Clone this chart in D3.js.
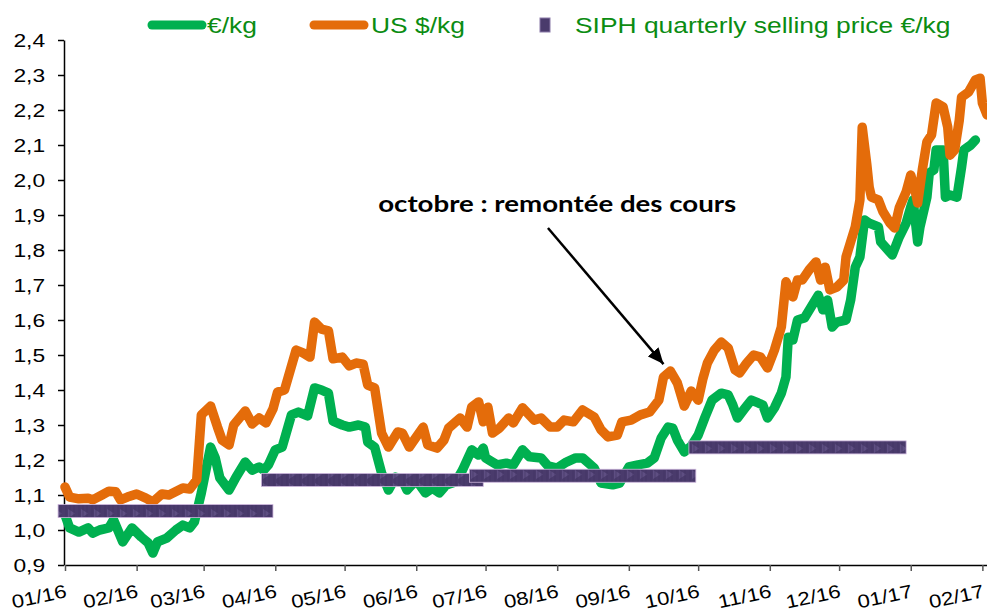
<!DOCTYPE html>
<html>
<head>
<meta charset="utf-8">
<script src="https://cdn.jsdelivr.net/npm/d3@7"></script>
<style>
body { margin: 0; background: #fff; }
svg { display: block; font-family: "Liberation Sans", Arial, sans-serif; }
</style>
</head>
<body>
<svg id="chart" width="987" height="614"></svg>
<script>
// €/kg series
const eurDates = ["2016-01-01","2016-01-03","2016-01-07","2016-01-11","2016-01-13","2016-01-16","2016-01-20","2016-01-22","2016-01-26","2016-01-30",
    "2016-02-03","2016-02-06","2016-02-08","2016-02-10","2016-02-14","2016-02-18","2016-02-21","2016-02-24","2016-02-26","2016-02-29",
    "2016-03-04","2016-03-06","2016-03-08","2016-03-12","2016-03-15","2016-03-19","2016-03-22","2016-03-25","2016-03-27","2016-03-29",
    "2016-04-01","2016-04-04","2016-04-08","2016-04-11","2016-04-15","2016-04-18","2016-04-21","2016-04-24","2016-04-26","2016-04-30",
    "2016-05-03","2016-05-07","2016-05-10","2016-05-11","2016-05-14","2016-05-17","2016-05-20","2016-05-23","2016-05-26","2016-05-28",
    "2016-06-01","2016-06-05","2016-06-08","2016-06-11","2016-06-14","2016-06-18","2016-06-21","2016-06-25","2016-06-28","2016-06-30",
    "2016-07-01","2016-07-04","2016-07-06","2016-07-10","2016-07-13","2016-07-17","2016-07-20","2016-07-25","2016-07-28",
    "2016-08-01","2016-08-05","2016-08-09","2016-08-12","2016-08-17","2016-08-20","2016-08-25","2016-08-28",
    "2016-09-01","2016-09-05","2016-09-09","2016-09-12","2016-09-15","2016-09-18","2016-09-20","2016-09-22","2016-09-25","2016-09-28",
    "2016-10-01","2016-10-04","2016-10-07","2016-10-11","2016-10-14","2016-10-16","2016-10-18","2016-10-21","2016-10-24","2016-10-27","2016-10-29","2016-10-31",
    "2016-11-03","2016-11-06","2016-11-08","2016-11-09","2016-11-11","2016-11-13","2016-11-16","2016-11-20","2016-11-22","2016-11-24","2016-11-26","2016-11-28","2016-11-30",
    "2016-12-04","2016-12-06","2016-12-08","2016-12-10","2016-12-12","2016-12-14","2016-12-18","2016-12-19","2016-12-24","2016-12-27","2016-12-30",
    "2017-01-01","2017-01-02","2017-01-04","2017-01-05","2017-01-08","2017-01-09","2017-01-11","2017-01-12","2017-01-15","2017-01-16","2017-01-18","2017-01-21","2017-01-23","2017-01-24","2017-01-27","2017-01-29"];
const eurValues = [1.043,1.006,0.994,1.006,0.991,1.000,1.006,1.029,0.966,1.006,
    0.980,0.963,0.934,0.966,0.977,1.000,1.014,1.006,1.023,1.106,
    1.237,1.206,1.149,1.114,1.151,1.194,1.171,1.180,1.171,1.186,
    1.229,1.237,1.329,1.337,1.326,1.406,1.400,1.391,1.311,1.300,
    1.294,1.300,1.294,1.251,1.237,1.163,1.114,1.151,1.143,1.114,
    1.143,1.106,1.120,1.106,1.129,1.137,1.171,1.229,1.214,1.234,
    1.206,1.194,1.186,1.191,1.186,1.229,1.209,1.206,1.183,
    1.177,1.194,1.206,1.206,1.177,1.134,1.129,1.134,
    1.180,1.186,1.191,1.206,1.263,1.294,1.291,1.257,1.223,1.240,
    1.271,1.323,1.371,1.391,1.386,1.357,1.320,1.346,1.371,1.363,1.357,1.320,
    1.349,1.391,1.437,1.551,1.543,1.600,1.606,1.649,1.671,1.629,1.657,1.580,1.594,
    1.600,1.657,1.751,1.780,1.886,1.877,1.866,1.823,1.786,1.837,1.877,
    1.923,1.943,1.823,1.866,1.951,2.020,2.029,2.086,2.086,1.951,1.957,1.951,2.037,2.086,2.100,2.114];

// US $/kg series
const usdDates = ["2016-01-01","2016-01-03","2016-01-07","2016-01-11","2016-01-13","2016-01-17","2016-01-20","2016-01-23","2016-01-25","2016-01-28",
    "2016-02-01","2016-02-05","2016-02-08","2016-02-12","2016-02-15","2016-02-21","2016-02-24","2016-02-27","2016-02-29",
    "2016-03-04","2016-03-07","2016-03-09","2016-03-12","2016-03-14","2016-03-19","2016-03-22","2016-03-25","2016-03-28","2016-03-31",
    "2016-04-02","2016-04-05","2016-04-10","2016-04-13","2016-04-16","2016-04-18","2016-04-21","2016-04-24","2016-04-26","2016-04-30",
    "2016-05-03","2016-05-06","2016-05-09","2016-05-11","2016-05-14","2016-05-17","2016-05-20","2016-05-24","2016-05-26","2016-05-29",
    "2016-06-04","2016-06-06","2016-06-10","2016-06-13","2016-06-15","2016-06-20","2016-06-23","2016-06-25","2016-06-28","2016-06-30",
    "2016-07-02","2016-07-04","2016-07-07","2016-07-11","2016-07-13","2016-07-17","2016-07-22","2016-07-25","2016-07-29",
    "2016-08-01","2016-08-04","2016-08-08","2016-08-12","2016-08-17","2016-08-20","2016-08-23","2016-08-27","2016-08-29",
    "2016-09-02","2016-09-06","2016-09-10","2016-09-14","2016-09-16","2016-09-19","2016-09-22","2016-09-25","2016-09-28",
    "2016-10-01","2016-10-03","2016-10-05","2016-10-08","2016-10-11","2016-10-14","2016-10-17","2016-10-19","2016-10-22","2016-10-25","2016-10-28","2016-10-31",
    "2016-11-03","2016-11-06","2016-11-08","2016-11-11","2016-11-13","2016-11-15","2016-11-18","2016-11-21","2016-11-23","2016-11-25","2016-11-27","2016-11-30",
    "2016-12-03","2016-12-04","2016-12-06","2016-12-08","2016-12-10","2016-12-11","2016-12-13","2016-12-14","2016-12-15","2016-12-18","2016-12-20","2016-12-23","2016-12-25","2016-12-27","2016-12-30",
    "2017-01-01","2017-01-03","2017-01-04","2017-01-06","2017-01-08","2017-01-10","2017-01-12","2017-01-15","2017-01-17","2017-01-18","2017-01-20","2017-01-22","2017-01-23","2017-01-26","2017-01-29","2017-01-31",
    "2017-02-01","2017-02-03"];
const usdValues = [1.123,1.094,1.089,1.091,1.086,1.100,1.111,1.109,1.086,1.094,
    1.103,1.091,1.080,1.103,1.100,1.120,1.117,1.143,1.329,
    1.354,1.294,1.257,1.243,1.300,1.340,1.303,1.320,1.306,1.346,
    1.394,1.400,1.514,1.506,1.494,1.594,1.574,1.569,1.489,1.494,
    1.469,1.477,1.474,1.414,1.406,1.277,1.237,1.280,1.277,1.237,
    1.294,1.243,1.234,1.257,1.291,1.320,1.294,1.351,1.366,1.309,
    1.351,1.277,1.291,1.320,1.306,1.349,1.314,1.320,1.294,
    1.294,1.314,1.309,1.343,1.323,1.286,1.266,1.271,1.309,
    1.314,1.329,1.337,1.371,1.437,1.454,1.420,1.354,1.397,
    1.371,1.431,1.477,1.514,1.537,1.520,1.457,1.449,1.477,1.500,1.494,1.463,
    1.514,1.580,1.709,1.666,1.714,1.714,1.743,1.766,1.714,1.751,1.686,1.694,
    1.714,1.780,1.823,1.866,1.943,2.151,2.043,1.980,1.951,1.943,1.909,1.877,1.863,1.920,1.966,
    2.014,1.966,1.934,2.029,2.109,2.129,2.220,2.209,2.151,2.071,2.086,2.171,2.237,2.251,2.286,2.291,
    2.220,2.186];

// SIPH quarterly selling price €/kg
const siphStart = ["2015-12-29", "2016-03-26", "2016-06-24", "2016-09-27"];
const siphEnd = ["2016-03-31", "2016-06-30", "2016-09-30", "2016-12-30"];
const siphValues = [1.054, 1.143, 1.155, 1.236];

const yTicks = [0.9, 1.0, 1.1, 1.2, 1.3, 1.4, 1.5, 1.6, 1.7, 1.8, 1.9, 2.0, 2.1, 2.2, 2.3, 2.4];
const monthTicks = ["2016-01-01","2016-02-01","2016-03-01","2016-04-01","2016-05-01","2016-06-01","2016-07-01",
    "2016-08-01","2016-09-01","2016-10-01","2016-11-01","2016-12-01","2017-01-01","2017-02-01"];
const legendLabels = ["€/kg", "US $/kg", "SIPH quarterly selling price €/kg"];

const noteText = "octobre : remontée des cours";
const noteDate = "2016-08-01", noteValue = 1.909;
const arrowFromDate = "2016-07-28", arrowFromValue = 1.863;
const arrowToDate = "2016-09-16", arrowToValue = 1.474;

const green = "#00b050";
const orange = "#e46c0a";
const purple = "#4a3b6c";
const legendGreen = "#0b8c12";

const parse = d3.timeParse("%Y-%m-%d");
const svg = d3.select("#chart");

svg.append("rect").attr("width", 987).attr("height", 614).attr("fill", "#fff");

const x = d3.scaleTime()
    .domain([parse("2016-01-01"), parse("2017-02-03")])
    .range([65, 987]);
const y = d3.scaleLinear()
    .domain([0.9, 2.4])
    .range([565, 40]);

// texture for the SIPH bars
const defs = svg.append("defs");
const pat = defs.append("pattern")
    .attr("id", "siph")
    .attr("patternUnits", "userSpaceOnUse")
    .attr("width", 13)
    .attr("height", 13);
pat.append("rect").attr("width", 13).attr("height", 13).attr("fill", purple);
pat.append("path").attr("d", "M3,2 L10,6.5 L3,11 Z").attr("fill", "#5e4e82");
pat.append("path").attr("d", "M1,0 V13 M5,0 V13 M9,0 V13").attr("stroke", "#3e3060").attr("stroke-width", 0.6);

defs.append("marker")
    .attr("id", "arrowhead")
    .attr("markerUnits", "userSpaceOnUse")
    .attr("markerWidth", 18)
    .attr("markerHeight", 14)
    .attr("refX", 16)
    .attr("refY", 7)
    .attr("orient", "auto")
    .append("path")
    .attr("d", "M0,0 L16,7 L0,14 Z")
    .attr("fill", "#000");

// axes
const yAxis = svg.append("g")
    .attr("transform", "translate(64,0)")
    .call(d3.axisLeft(y).tickValues(yTicks).tickSize(6).tickSizeOuter(0)
        .tickFormat(d => d3.format(".1f")(d).replace(".", ",")));
yAxis.select(".domain").attr("stroke", "#000").attr("stroke-width", 1.5);
yAxis.selectAll(".tick line").attr("stroke", "#000").attr("stroke-width", 1.5);
yAxis.selectAll(".tick text")
    .attr("x", -15.8)
    .attr("transform", "scale(1.2,1)")
    .style("font-size", "19px")
    .style("font-family", "'Liberation Sans', Arial, sans-serif")
    .attr("fill", "#000");

const xAxis = svg.append("g")
    .attr("transform", "translate(0,565)")
    .call(d3.axisBottom(x).tickValues(monthTicks.map(parse)).tickSize(6).tickSizeOuter(0)
        .tickFormat(d3.timeFormat("%m/%y")));
xAxis.select(".domain").attr("stroke", "#000").attr("stroke-width", 1.5);
xAxis.selectAll(".tick line").attr("stroke", "#555").attr("stroke-width", 1.5);
xAxis.selectAll(".tick text")
    .attr("x", 0).attr("y", 0).attr("dy", 0)
    .attr("text-anchor", "end")
    .attr("transform", "translate(2,32) rotate(-12) scale(1.2,1)")
    .style("font-size", "18.5px")
    .style("font-family", "'Liberation Sans', Arial, sans-serif")
    .attr("fill", "#000");

// price lines
const line = d3.line()
    .x(d => x(d.date))
    .y(d => y(d.value));

const eurData = eurDates.map((d, i) => ({date: parse(d), value: eurValues[i]}));
const usdData = usdDates.map((d, i) => ({date: parse(d), value: usdValues[i]}));

svg.append("path")
    .datum(eurData)
    .attr("d", line)
    .attr("fill", "none")
    .attr("stroke", green)
    .attr("stroke-width", 9.5)
    .attr("stroke-linejoin", "round")
    .attr("stroke-linecap", "round");

svg.append("path")
    .datum(usdData)
    .attr("d", line)
    .attr("fill", "none")
    .attr("stroke", orange)
    .attr("stroke-width", 9.5)
    .attr("stroke-linejoin", "round")
    .attr("stroke-linecap", "round");

// SIPH quarterly bars
const barH = 13;
svg.selectAll(".siph")
    .data(siphValues)
    .join("rect")
    .attr("class", "siph")
    .attr("x", (d, i) => x(parse(siphStart[i])))
    .attr("width", (d, i) => x(parse(siphEnd[i])) - x(parse(siphStart[i])))
    .attr("y", d => y(d) - barH / 2)
    .attr("height", barH)
    .attr("fill", "url(#siph)")
    .attr("stroke", "#cdb6dc")
    .attr("stroke-width", 0.8);

// annotation
svg.append("line")
    .attr("x1", x(parse(arrowFromDate)))
    .attr("y1", y(arrowFromValue))
    .attr("x2", x(parse(arrowToDate)))
    .attr("y2", y(arrowToValue))
    .attr("stroke", "#000")
    .attr("stroke-width", 2.5)
    .attr("marker-end", "url(#arrowhead)");

svg.append("text")
    .attr("x", x(parse(noteDate)))
    .attr("y", y(noteValue))
    .attr("text-anchor", "middle")
    .attr("textLength", 358)
    .attr("lengthAdjust", "spacingAndGlyphs")
    .style("font-family", "Lato, 'Open Sans', sans-serif")
    .style("font-weight", "bold")
    .style("font-size", "22px")
    .attr("fill", "#000")
    .text(noteText);

// legend
const legend = svg.append("g");
[green, orange].forEach((c, i) => {
    const x0 = [152, 314][i];
    legend.append("line")
        .attr("x1", x0).attr("x2", x0 + 50)
        .attr("y1", 25).attr("y2", 25)
        .attr("stroke", c)
        .attr("stroke-width", 9)
        .attr("stroke-linecap", "round");
});
legend.append("rect")
    .attr("x", 540).attr("y", 18)
    .attr("width", 10).attr("height", 14)
    .attr("fill", purple)
    .attr("stroke", "#8a7aa8")
    .attr("stroke-width", 1);

legend.selectAll("text")
    .data(legendLabels)
    .join("text")
    .attr("transform", (d, i) => `translate(${[207, 371, 575][i]},33) scale(1.2,1)`)
    .style("font-size", "22px")
    .attr("fill", legendGreen)
    .text(d => d);
</script>
</body>
</html>
